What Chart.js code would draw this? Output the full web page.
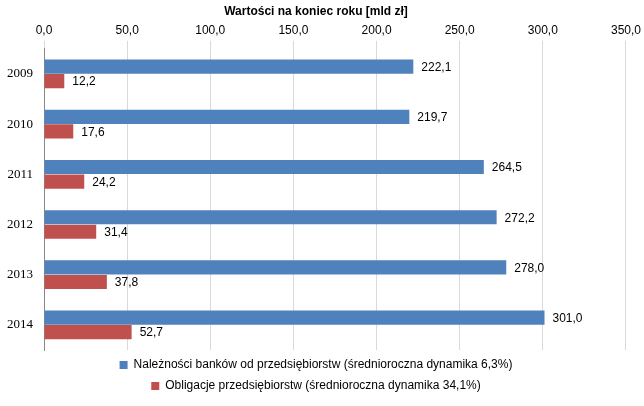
<!DOCTYPE html>
<html><head><meta charset="utf-8">
<script src="https://cdn.jsdelivr.net/npm/chart.js@4"></script>
<style>body{margin:0;background:#fff}#w{width:644px;height:406px}</style>
</head><body><div id="w"><canvas id="c"></canvas></div>
<script>
const years=["2009","2010","2011","2012","2013","2014"];
const banks=[222.1,219.7,264.5,272.2,278.0,301.0];
const bonds=[12.2,17.6,24.2,31.4,37.8,52.7];
const seriesNames=["Należności banków od przedsiębiorstw (średnioroczna dynamika 6,3%)","Obligacje przedsiębiorstw (średnioroczna dynamika 34,1%)"];
const fmt=v=>v.toFixed(1).replace('.',',');
const labelPlugin={id:'lbl',afterDatasetsDraw(ch){const ctx=ch.ctx;ctx.save();ctx.font='12px "Liberation Sans"';ctx.fillStyle='#000';ctx.textBaseline='middle';
ch.data.datasets.forEach((d,i)=>{ch.getDatasetMeta(i).data.forEach((b,j)=>{ctx.fillText(fmt(d.data[j]),b.x+8,b.y+1);});});ctx.restore();}};
new Chart(document.getElementById('c'),{type:'bar',
data:{labels:years,datasets:[
{label:seriesNames[0],data:banks,backgroundColor:'#4F81BD'},
{label:seriesNames[1],data:bonds,backgroundColor:'#C0504D'}]},
options:{indexAxis:'y',responsive:true,maintainAspectRatio:false,animation:false,
layout:{padding:{left:4,right:16,top:2,bottom:4}},
datasets:{bar:{categoryPercentage:0.58,barPercentage:0.97}},
plugins:{title:{display:true,text:'Wartości na koniec roku [mld zł]',font:{family:'Liberation Sans',size:12,weight:'bold'},color:'#000',padding:{top:2,bottom:2}},
legend:{position:'bottom',labels:{boxWidth:8,boxHeight:8,font:{family:'Liberation Sans',size:12},color:'#000',padding:9}},tooltip:{enabled:false}},
scales:{x:{position:'top',min:0,max:350,ticks:{stepSize:50,callback:v=>fmt(v),color:'#000',font:{family:'Liberation Sans',size:12}},grid:{color:'#d9d9d9'},border:{display:false}},
y:{ticks:{color:'#000',font:{family:'Liberation Serif',size:13}},grid:{display:false},border:{color:'#888'}}}},
plugins:[labelPlugin]});
</script></body></html>
